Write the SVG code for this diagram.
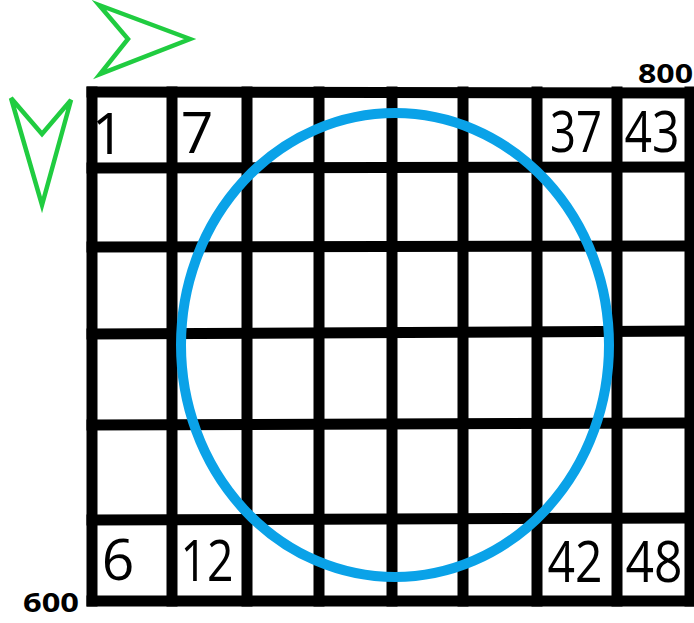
<svg xmlns="http://www.w3.org/2000/svg" width="694" height="623" viewBox="0 0 694 623">
<style>
.grid line{stroke:#000;stroke-width:11;stroke-linecap:square}
.num{font-family:"Open Sans","Noto Sans","Liberation Sans",sans-serif;font-size:57px;fill:#000;text-anchor:middle}
.lbl{font-family:"Open Sans","Liberation Sans",sans-serif;font-weight:bold;font-size:26px;fill:#000}
.arrow{fill:none;stroke:#20cc40;stroke-width:4.5;stroke-linejoin:miter}
</style>
<rect width="694" height="623" fill="#fff"/>
<g id="grid" class="grid">
<line x1="92" y1="92" x2="690" y2="93"/>
<line x1="92" y1="168" x2="690" y2="167"/>
<line x1="92" y1="247" x2="690" y2="246"/>
<line x1="92" y1="334" x2="690" y2="331"/>
<line x1="92" y1="425" x2="690" y2="423"/>
<line x1="92" y1="520" x2="690" y2="518"/>
<line x1="92" y1="601" x2="690" y2="601"/>
<line x1="92" y1="92" x2="92" y2="601"/>
<line x1="172" y1="92" x2="172" y2="601"/>
<line x1="247" y1="92" x2="247" y2="601"/>
<line x1="319" y1="92" x2="319" y2="601"/>
<line x1="392" y1="92" x2="392" y2="601"/>
<line x1="463" y1="92" x2="463" y2="601"/>
<line x1="537" y1="92" x2="537" y2="601"/>
<line x1="617" y1="92" x2="617" y2="601"/>
<line x1="690" y1="92" x2="690" y2="601"/>
</g>
<g id="cell-1"><text class="num" x="108" y="154">1</text></g>
<g id="cell-7"><text class="num" x="197" y="153">7</text></g>
<g id="cell-37"><text class="num" x="576" y="152" textLength="52" lengthAdjust="spacingAndGlyphs">37</text></g>
<g id="cell-43"><text class="num" x="652" y="152" textLength="55" lengthAdjust="spacingAndGlyphs">43</text></g>
<g id="cell-6"><text class="num" x="118" y="580">6</text></g>
<g id="cell-12"><text class="num" x="207" y="581" textLength="53" lengthAdjust="spacingAndGlyphs">12</text></g>
<g id="cell-42"><text class="num" x="575" y="582" textLength="55" lengthAdjust="spacingAndGlyphs">42</text></g>
<g id="cell-48"><text class="num" x="654" y="582" textLength="57" lengthAdjust="spacingAndGlyphs">48</text></g>
<g id="label-800"><text class="lbl" x="638" y="83" textLength="55" lengthAdjust="spacingAndGlyphs">800</text></g>
<g id="label-600"><text class="lbl" x="23" y="612" textLength="56" lengthAdjust="spacingAndGlyphs">600</text></g>
<g id="circle"><ellipse cx="395" cy="345" rx="214" ry="232" fill="none" stroke="#0aa2e8" stroke-width="10"/></g>
<g id="arrows">
<polygon class="arrow" points="99,5 190,39 100,74 128,39"/>
<polygon class="arrow" points="11,98 42,134 71,100 42,205"/>
</g>
</svg>
